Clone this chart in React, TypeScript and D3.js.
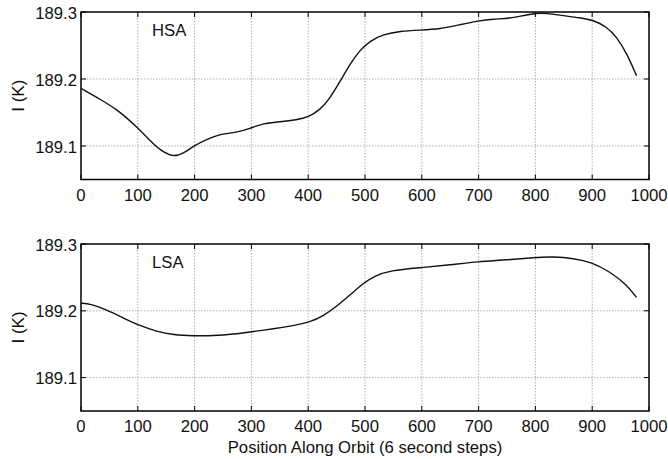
import React from "react";
import * as d3 from "d3";

const xTicks = [0, 100, 200, 300, 400, 500, 600, 700, 800, 900, 1000];
const yTicks = [189.1, 189.2, 189.3];

const hsaX = [0, 33, 63, 98, 127, 145, 163, 180, 198, 221, 245, 274, 297, 321, 350, 380, 400, 421, 438, 456, 474, 491, 509, 532, 562, 597, 632, 667, 700, 726, 755, 779, 802, 820, 849, 878, 902, 925, 943, 961, 978];
const hsaY = [189.186, 189.17, 189.155, 189.129, 189.103, 189.0905, 189.084, 189.0885, 189.1, 189.11, 189.118, 189.12, 189.126, 189.134, 189.136, 189.139, 189.143, 189.154, 189.171, 189.196, 189.223, 189.243, 189.257, 189.2665, 189.2715, 189.273, 189.2745, 189.281, 189.287, 189.2895, 189.2905, 189.2945, 189.2985, 189.298, 189.2945, 189.2915, 189.288, 189.278, 189.263, 189.238, 189.205];

const lsaX = [0, 16, 45, 75, 104, 133, 163, 198, 233, 268, 303, 339, 374, 403, 427, 450, 474, 497, 515, 544, 600, 650, 699, 750, 799, 831, 867, 899, 931, 961, 978];
const lsaY = [189.2115, 189.2105, 189.2015, 189.189, 189.1776, 189.169, 189.164, 189.1625, 189.1625, 189.165, 189.169, 189.173, 189.1776, 189.183, 189.1925, 189.2065, 189.224, 189.2413, 189.2515, 189.2605, 189.2646, 189.2687, 189.2736, 189.2761, 189.28, 189.281, 189.2786, 189.2727, 189.2587, 189.2388, 189.22];

const FONT = "'Liberation Sans', Arial, Helvetica, sans-serif";
const FS = 16.7;

function Panel({ top, bottom, xs, ys, label, showTitle }: { top: number; bottom: number; xs: number[]; ys: number[]; label: string; showTitle: boolean }) {
  const left = 81;
  const right = 649;
  const x = d3.scaleLinear().domain([0, 1000]).range([left, right]);
  const y = d3.scaleLinear().domain([189.05, 189.3]).range([bottom, top]);
  const pts: [number, number][] = xs.map((v, i) => [v, ys[i]]);
  const line = d3
    .line<[number, number]>()
    .x((d) => x(d[0]))
    .y((d) => y(d[1]))
    .curve(d3.curveBasis);
  const tl = 5;
  return (
    <g>
      {xTicks.slice(1, -1).map((t) => (
        <line key={"gx" + t} x1={x(t)} x2={x(t)} y1={top} y2={bottom} stroke="#9a9a9a" strokeWidth={0.8} strokeDasharray="1.5,1.5" />
      ))}
      {yTicks.slice(0, -1).map((t) => (
        <line key={"gy" + t} x1={left} x2={right} y1={y(t)} y2={y(t)} stroke="#9a9a9a" strokeWidth={0.8} strokeDasharray="1.5,1.5" />
      ))}
      {xTicks.map((t) => (
        <g key={"tx" + t}>
          <line x1={x(t)} x2={x(t)} y1={bottom} y2={bottom - tl} stroke="#000" strokeWidth={1} />
          <line x1={x(t)} x2={x(t)} y1={top} y2={top + tl} stroke="#000" strokeWidth={1} />
          <text x={x(t)} y={bottom + 15.5} textAnchor="middle" dominantBaseline="central" fontSize={FS} fontFamily={FONT} fill="#111">{t}</text>
        </g>
      ))}
      {yTicks.map((t) => (
        <g key={"ty" + t}>
          <line x1={left} x2={left + tl} y1={y(t)} y2={y(t)} stroke="#000" strokeWidth={1} />
          <line x1={right} x2={right - tl} y1={y(t)} y2={y(t)} stroke="#000" strokeWidth={1} />
          <text x={77} y={y(t) + 1} textAnchor="end" dominantBaseline="central" fontSize={FS} fontFamily={FONT} fill="#111">{t.toFixed(1)}</text>
        </g>
      ))}
      <rect x={left} y={top} width={right - left} height={bottom - top} fill="none" stroke="#000" strokeWidth={1.5} />
      <path d={line(pts) || ""} fill="none" stroke="#111" strokeWidth={1.4} />
      <text x={152} y={top + 18} dominantBaseline="central" fontSize={FS} fontFamily={FONT} fill="#111">{label}</text>
      <text transform={`translate(18,${(top + bottom) / 2}) rotate(-90)`} textAnchor="middle" dominantBaseline="central" fontSize={17} fontFamily={FONT} fill="#111">I (K)</text>
      {showTitle && (
        <text x={365} y={bottom + 36} textAnchor="middle" dominantBaseline="central" fontSize={FS} fontFamily={FONT} fill="#111">Position Along Orbit (6 second steps)</text>
      )}
    </g>
  );
}

export default function App() {
  return (
    <svg width={668} height={459} style={{ position: "absolute", left: 0, top: 0, background: "#fff" }}>
      <rect width={668} height={459} fill="#fff" />
      <Panel top={12} bottom={179.5} xs={hsaX} ys={hsaY} label="HSA" showTitle={false} />
      <Panel top={244} bottom={411} xs={lsaX} ys={lsaY} label="LSA" showTitle={true} />
    </svg>
  );
}
